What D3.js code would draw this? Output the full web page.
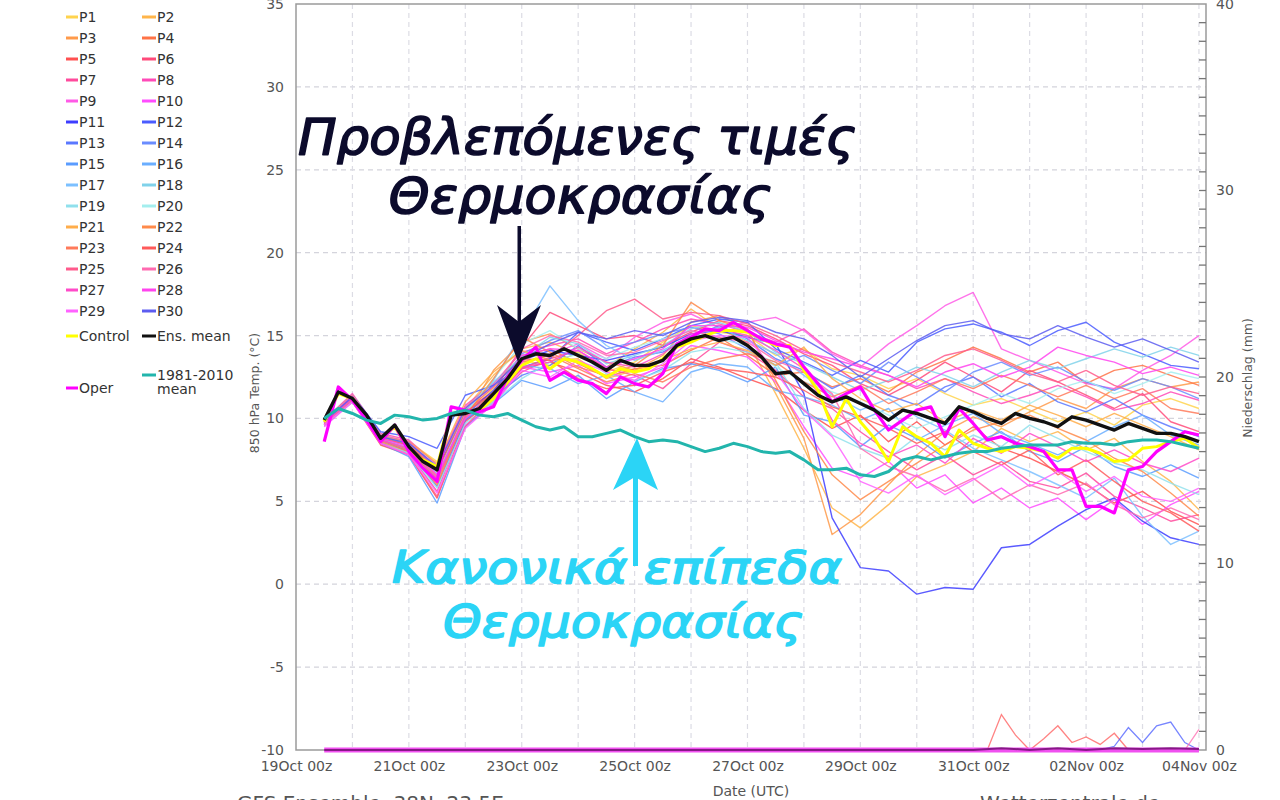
<!DOCTYPE html>
<html><head><meta charset="utf-8">
<script src="https://cdn.jsdelivr.net/npm/d3@7"></script>
<style>body{margin:0;background:#fff;} svg{display:block;font-family:"DejaVu Sans",sans-serif;}</style>
</head><body>
<svg id="c" width="1280" height="800"></svg>
<script>
// ---------- DATA ----------
// Start of the forecast: 19 Oct 12z. Members every 12 h, key curves every 6 h.
const yearUsed = 2020;
const xTickLabels = ["19Oct 00z","21Oct 00z","23Oct 00z","25Oct 00z","27Oct 00z","29Oct 00z","31Oct 00z","02Nov 00z","04Nov 00z"];
const yTickValues = [-10,-5,0,5,10,15,20,25,30,35];
const rTickValues = [0,10,20,30,40];

// Ensemble members, 850 hPa temperature (°C), 12-hourly from 19Oct 12z to 04Nov 00z
const P1  = [9.8,11.3,9.0,8.6,7.4,10.2,11.8,13.5,13.2,14.0,12.8,13.4,14.6,15.6,15.2,15.0,13.8,14.2,13.0,12.6,11.8,12.4,11.5,10.8,11.2,10.5,9.8,10.4,9.6,10.8,11.2,10.6];
const P2  = [9.7,11.2,8.9,8.4,6.8,10.6,12.6,14.2,14.6,13.9,13.1,14.2,15.2,16.6,15.4,14.6,11.5,8.2,4.6,3.4,4.8,6.5,7.2,8.0,9.4,8.6,9.2,8.1,8.8,7.4,6.2,4.5];
const P3  = [9.9,11.4,8.6,8.0,6.1,10.0,12.9,14.6,15.1,14.2,13.4,12.9,13.8,15.8,16.2,15.4,12.0,8.8,3.0,4.2,6.0,7.8,9.2,10.1,9.5,10.4,11.2,10.6,11.8,12.4,11.9,12.2];
const P4  = [9.8,11.1,8.7,8.2,6.5,10.4,11.9,13.8,14.2,13.3,12.5,13.0,13.2,14.1,14.9,13.8,12.6,12.8,11.9,12.4,11.6,12.8,13.5,14.3,13.6,12.8,13.4,12.1,12.9,13.2,12.6,12.0];
const P5  = [9.6,11.0,8.4,7.8,5.2,9.8,11.2,13.0,13.4,12.8,12.0,11.6,12.4,13.6,13.1,12.4,11.8,10.5,9.4,10.2,8.6,9.8,8.4,9.5,8.2,7.6,6.8,6.0,4.9,5.6,4.4,3.6];
const P6  = [9.8,11.3,8.9,8.5,6.9,10.5,11.6,14.3,16.4,15.6,14.8,15.0,14.4,15.2,15.9,15.6,14.8,13.9,13.2,12.1,11.4,12.3,13.4,12.5,11.6,12.9,12.2,11.4,10.6,11.5,9.8,9.2];
const P7  = [9.6,11.1,8.6,7.9,5.6,9.9,11.0,12.8,13.6,14.1,13.0,12.6,11.8,13.3,14.6,14.0,12.9,11.3,10.6,9.2,8.0,6.9,7.8,6.6,7.4,6.2,5.8,6.7,5.3,4.6,3.8,4.2];
const P8  = [9.9,11.5,9.1,8.7,7.2,10.8,12.1,14.0,14.4,14.8,13.9,14.6,15.4,16.0,15.7,15.2,14.6,15.4,14.0,13.2,12.6,11.8,12.4,11.6,10.9,11.4,12.0,11.3,10.5,10.9,11.6,11.1];
const P9  = [9.7,11.2,8.8,8.3,6.6,10.1,11.4,13.3,13.9,14.5,13.6,14.9,15.8,16.3,15.5,15.8,16.1,15.3,13.9,13.1,14.5,15.6,16.8,17.6,14.2,13.5,12.8,12.1,11.8,12.9,13.8,15.0];
const P10 = [9.5,11.0,8.5,8.1,6.3,9.6,10.8,13.1,12.8,13.2,12.1,12.5,13.1,14.4,14.1,13.7,12.2,9.5,7.0,6.4,7.4,5.8,6.6,4.9,5.8,4.6,5.2,3.9,5.1,3.6,4.8,5.6];
const P11 = [9.8,11.3,8.9,8.6,7.0,10.2,11.7,13.5,14.1,13.8,13.5,13.9,14.3,15.1,15.3,14.9,14.5,11.5,4.0,1.0,0.8,-0.6,-0.2,-0.3,2.2,2.4,3.5,4.5,5.2,3.8,2.8,2.4];
const P12 = [9.9,11.4,9.2,8.9,8.2,11.4,12.0,13.1,13.6,15.2,14.6,14.1,14.8,15.6,16.0,15.8,14.2,13.4,12.6,13.5,12.8,14.6,15.4,15.7,15.2,14.4,15.3,15.8,14.6,13.9,13.2,13.0];
const P13 = [9.7,11.2,8.7,8.0,5.9,9.9,11.3,12.6,13.2,14.4,13.1,13.7,14.0,14.9,15.6,14.8,13.6,12.9,11.8,12.6,11.4,10.8,11.9,12.5,11.3,12.1,11.0,10.4,11.2,10.2,9.5,8.9];
const P14 = [9.8,11.3,8.9,8.4,6.7,10.3,11.5,13.9,14.7,15.3,14.2,14.6,15.1,15.5,15.1,14.2,13.2,13.8,12.9,12.1,13.4,12.5,11.6,12.8,13.4,12.6,13.1,12.2,11.7,12.4,11.9,11.2];
const P15 = [9.6,11.1,8.5,7.7,4.9,9.5,10.9,12.3,11.8,12.6,11.2,12.2,13.0,13.3,12.9,12.2,13.1,10.2,9.8,8.3,9.6,8.8,7.6,8.5,9.2,8.0,7.4,8.3,7.1,6.5,7.2,6.4];
const P16 = [9.7,11.2,8.8,8.1,6.4,10.0,11.1,13.2,13.0,12.1,12.6,11.6,11.0,12.8,13.3,13.1,11.7,11.3,10.8,9.9,10.6,8.7,9.6,10.3,9.1,8.5,7.8,8.6,9.5,10.2,9.0,8.4];
const P17 = [9.9,11.4,9.0,8.5,7.1,10.4,12.3,15.1,18.0,15.9,14.4,13.5,14.1,15.0,15.5,14.7,13.9,12.6,11.4,10.5,11.2,10.1,9.3,8.2,7.5,6.8,6.0,5.2,6.4,4.1,2.4,3.2];
const P18 = [9.8,11.3,8.7,8.2,6.2,10.6,12.2,13.7,14.9,14.5,13.3,13.8,14.4,15.4,15.8,15.2,14.0,13.3,12.5,11.7,12.3,13.1,12.6,11.9,12.8,13.5,13.0,13.6,14.2,13.7,14.3,13.8];
const P19 = [9.6,11.0,8.6,7.9,5.8,9.7,11.0,12.4,13.4,13.9,12.7,12.3,12.9,14.0,14.3,14.0,13.4,10.6,9.0,8.2,7.6,8.9,8.1,9.0,8.3,9.6,8.8,8.0,7.3,6.9,6.1,5.4];
const P20 = [9.7,11.1,8.8,8.3,6.7,10.3,12.4,14.5,15.3,14.2,13.6,14.3,14.8,15.3,14.8,14.4,13.1,12.2,11.6,11.0,10.2,9.4,10.1,10.8,11.5,10.9,11.8,12.3,11.5,12.1,12.8,12.4];
const P21 = [9.9,11.4,8.9,8.6,7.3,11.0,12.8,14.1,13.5,13.6,12.4,12.9,13.5,14.2,14.6,14.1,13.2,14.3,12.4,11.2,10.4,10.9,9.8,10.5,9.9,10.8,10.2,9.5,10.3,9.6,8.9,8.1];
const P22 = [9.8,11.3,8.6,8.0,6.0,10.1,12.4,14.9,14.0,13.1,12.6,13.2,14.4,17.0,15.9,15.3,12.3,9.2,6.6,5.1,6.2,7.3,8.4,9.3,9.8,10.2,9.4,8.7,7.6,6.8,5.5,4.1];
const P23 = [9.7,11.2,8.7,8.1,6.3,10.0,11.6,13.4,13.8,13.0,12.2,12.7,12.2,13.1,13.6,13.9,13.4,12.2,11.3,12.0,10.9,11.6,12.4,11.8,12.6,12.0,11.3,12.0,11.2,11.8,10.6,10.3];
const P24 = [9.8,11.3,8.8,8.4,6.8,10.4,11.5,13.6,13.5,12.4,11.8,12.0,12.8,13.4,13.0,12.8,12.5,11.7,10.7,10.1,9.4,8.5,9.2,8.0,7.2,8.1,6.6,7.5,6.2,5.0,4.3,3.2];
const P25 = [9.6,11.1,8.5,7.8,5.3,9.5,11.3,13.0,13.7,15.0,16.5,17.2,16.0,16.4,16.2,15.7,15.0,14.1,13.4,12.8,12.2,12.9,13.8,14.2,13.5,12.7,12.2,12.9,12.0,11.4,11.9,11.5];
const P26 = [9.9,11.4,9.0,8.6,7.0,10.7,11.9,14.2,15.0,14.6,13.8,14.0,14.7,15.3,14.9,14.6,13.5,12.8,11.5,8.2,7.1,6.5,5.6,6.4,5.1,6.0,5.4,6.1,4.8,4.0,4.6,3.9];
const P27 = [9.7,11.2,8.7,8.2,6.4,10.2,11.3,13.1,13.4,14.3,13.4,13.1,13.9,15.1,15.4,15.0,14.1,13.0,9.9,8.5,7.7,8.4,7.3,8.8,7.9,9.1,8.3,7.4,8.1,7.3,6.8,7.6];
const P28 = [9.8,11.3,8.8,8.3,6.6,10.0,11.4,13.8,14.2,14.1,13.1,13.6,14.2,15.6,15.6,15.5,14.7,14.0,13.6,13.1,12.6,11.9,12.8,13.3,12.5,13.1,14.3,13.8,13.4,12.7,13.1,12.6];
const P29 = [9.6,11.0,8.5,7.8,5.5,9.4,10.9,12.9,12.5,13.5,12.8,12.3,13.3,14.7,15.0,14.9,12.8,10.5,8.9,6.2,5.5,6.6,5.4,6.3,7.2,5.9,6.8,5.6,6.5,5.3,5.0,5.8];
const P30 = [9.8,11.3,8.9,8.5,7.1,10.6,12.0,13.6,14.5,15.2,14.8,15.3,15.0,15.8,16.1,15.9,15.2,14.8,13.8,12.5,13.6,14.7,15.6,15.9,15.1,14.8,15.6,14.9,14.3,14.8,14.1,13.4];

const memberNames  = ["P1","P2","P3","P4","P5","P6","P7","P8","P9","P10","P11","P12","P13","P14","P15","P16","P17","P18","P19","P20","P21","P22","P23","P24","P25","P26","P27","P28","P29","P30"];
const memberColors = ["#ffd34d","#ffb54a","#ff9a4a","#ff7346","#ff5050","#ff4a7a","#ff4a9c","#ff4ab8","#ff5ae6","#ff4cff",
                      "#3d3dff","#4a5cff","#5a78ff","#6a8cff","#5a9cff","#6aaeff","#7cc0ff","#80d2ea","#90e0ec","#a4eeee",
                      "#ffad4a","#ff8a4a","#ff7a5a","#ff5a5a","#ff5a8c","#ff6ab0","#ff4ac8","#ff44ee","#ff62ff","#5c5cf0"];

// 6-hourly curves from 19Oct 12z to 04Nov 00z
const controlRun = [9.8,11.5,11.2,10.0,8.8,9.5,8.1,7.5,7.1,10.3,10.4,10.5,11.2,12.2,13.2,13.6,13.0,13.6,13.4,13.0,12.5,13.0,12.8,13.0,13.6,14.3,14.6,15.0,15.3,15.3,15.2,14.8,14.4,14.4,12.9,11.7,9.5,11.2,9.8,8.8,7.4,9.5,8.9,8.5,7.7,9.3,8.5,8.2,8.0,8.3,8.2,8.0,7.6,8.2,8.2,7.9,7.4,7.5,8.2,8.3,8.6,8.8,8.2];
const ensMean    = [9.9,11.6,11.2,10.2,8.8,9.6,8.3,7.4,6.9,10.2,10.3,10.6,11.5,12.4,13.6,13.9,13.8,14.2,13.8,13.4,12.9,13.5,13.2,13.2,13.5,14.4,14.8,15.0,14.7,14.9,14.4,13.7,12.7,12.8,12.1,11.4,11.0,11.3,10.9,10.5,9.9,10.5,10.3,10.0,9.7,10.7,10.4,10.0,9.7,10.3,10.0,9.8,9.5,10.1,9.9,9.6,9.3,9.7,9.4,9.1,9.1,8.9,8.6];
const climMean   = [10.0,10.6,10.3,9.9,9.7,10.2,10.1,9.9,10.0,10.3,10.5,10.2,10.1,10.3,9.9,9.5,9.3,9.5,8.9,8.9,9.1,9.3,8.9,8.6,8.7,8.6,8.3,8.0,8.2,8.5,8.3,8.0,7.9,8.0,7.5,6.9,6.9,7.0,6.6,6.5,6.8,7.5,7.7,7.5,7.7,7.9,8.0,8.0,8.2,8.3,8.4,8.4,8.4,8.6,8.5,8.5,8.4,8.6,8.7,8.7,8.6,8.4,8.2];
const operRun    = [8.6,11.9,11.1,9.9,8.6,9.6,8.0,7.0,6.2,10.7,10.5,10.4,10.7,12.5,13.5,14.3,12.3,12.8,12.3,12.1,11.5,12.5,12.1,11.9,12.7,14.5,14.9,15.4,15.3,15.8,15.3,14.8,14.5,14.3,13.1,12.1,11.0,11.5,11.9,10.5,9.3,9.9,10.5,10.7,8.9,10.6,9.7,8.7,8.9,8.5,8.3,8.0,6.9,6.9,4.7,4.7,4.3,6.9,7.1,8.0,8.6,9.2,9.0];

// Precipitation (mm), right axis
// member precipitation, 6-hourly from 30Oct 00z to 04Nov 00z
const precipP24 = [0,0,0,0,0,0,1.9,0.8,0,0.6,1.3,0.4,0.7,0.3,0.9,0,0,0,0,0,0];
const precipP12 = [0,0,0,0,0,0,0,0,0,0,0,0,0,0,0.2,1.2,0.4,1.3,1.5,0.4,0];
const precipP26 = [0,0,0,0,0,0,0,0,0,0,0,0,0,0,0,0,0,0,0,0,1.1];
// 12-hourly from 19Oct 12z to 04Nov 00z
const precipMean = [0,0,0,0,0,0,0,0,0,0,0,0,0,0,0,0,0,0,0,0,0,0,0,0,0.1,0,0.1,0,0.1,0.05,0.1,0.05];
const precipOper = [0,0,0,0,0,0,0,0,0,0,0,0,0,0,0,0,0,0,0,0,0,0,0,0,0,0,0,0,0,0,0,0];

// ---------- DRAW ----------
const HOUR = 3600e3;
const t0 = Date.UTC(yearUsed, 9, 19, 12);
const tPrecip = Date.UTC(yearUsed, 9, 30, 0);
const t12 = j => new Date(t0 + j * 12 * HOUR);
const t6  = i => new Date(t0 + i * 6 * HOUR);
const tp6 = i => new Date(tPrecip + i * 6 * HOUR);

const L = 296, R = 1206, T = 4, B = 750;
const x = d3.scaleUtc().domain([Date.UTC(yearUsed,9,19,0), Date.UTC(yearUsed,10,4,3)]).range([L, R]);
const y = d3.scaleLinear().domain([-10, 35]).range([B, T]);
const yr = d3.scaleLinear().domain([0, 40]).range([B, T]);

const svg = d3.select("#c");
svg.append("rect").attr("width",1280).attr("height",800).attr("fill","#fff");

svg.append("defs").append("clipPath").attr("id","plotclip")
  .append("rect").attr("x",L).attr("y",T).attr("width",R-L).attr("height",B-T);

// grid
const grid = svg.append("g");
grid.selectAll("line.h").data(yTickValues.filter(v => v > -10 && v < 35)).enter().append("line")
  .attr("x1",L).attr("x2",R).attr("y1",d=>y(d)).attr("y2",d=>y(d))
  .attr("stroke","#d4d4dc").attr("stroke-width",1.2).attr("stroke-dasharray","5,4");
const days = d3.utcDay.range(new Date(Date.UTC(yearUsed,9,20)), new Date(Date.UTC(yearUsed,10,4,1)));
grid.selectAll("line.v").data(days).enter().append("line")
  .attr("x1",d=>x(d)).attr("x2",d=>x(d)).attr("y1",T).attr("y2",B)
  .attr("stroke","#dcdce4").attr("stroke-width",1.2).attr("stroke-dasharray","5,4");

// frame
svg.append("rect").attr("x",L).attr("y",T).attr("width",R-L).attr("height",B-T)
  .attr("fill","none").attr("stroke","#9a9a9a").attr("stroke-width",1.5);

// right axis minor ticks (every 1 mm, inward)
svg.append("g").selectAll("line").data(d3.range(1,40)).enter().append("line")
  .attr("x1",R-7).attr("x2",R).attr("y1",d=>yr(d)).attr("y2",d=>yr(d))
  .attr("stroke","#777").attr("stroke-width",1.3);

// axes labels
const axL = svg.append("g").attr("transform",`translate(${L},0)`)
  .call(d3.axisLeft(y).tickValues(yTickValues).tickFormat(d => String(d)).tickSize(0).tickPadding(12));
axL.select(".domain").remove();
axL.selectAll("text").attr("font-size",14).attr("fill","#555").attr("font-family","DejaVu Sans");

const axR = svg.append("g").attr("transform",`translate(${R},0)`)
  .call(d3.axisRight(yr).tickValues(rTickValues).tickFormat(d => String(d)).tickSize(0).tickPadding(10));
axR.select(".domain").remove();
axR.selectAll("text").attr("font-size",14).attr("fill","#555").attr("font-family","DejaVu Sans");

const xTicks = d3.range(0, 17, 2).map(k => new Date(Date.UTC(yearUsed,9,19 + k)));
const axB = svg.append("g").attr("transform",`translate(0,${B})`)
  .call(d3.axisBottom(x).tickValues(xTicks).tickFormat((d,i) => xTickLabels[i]).tickSize(0).tickPadding(11));
axB.select(".domain").remove();
axB.selectAll("text").attr("font-size",14).attr("fill","#555").attr("font-family","DejaVu Sans");

svg.append("text").attr("x",(L+R)/2).attr("y",796).attr("text-anchor","middle")
  .attr("font-size",14).attr("fill","#555").text("Date (UTC)");
svg.append("text").attr("transform","translate(259,393) rotate(-90)").attr("text-anchor","middle")
  .attr("font-size",12.5).attr("fill","#555").text("850 hPa Temp. (°C)");
svg.append("text").attr("transform","translate(1252,378) rotate(-90)").attr("text-anchor","middle")
  .attr("font-size",12.5).attr("fill","#555").text("Niederschlag (mm)");

// data
const plot = svg.append("g").attr("clip-path","url(#plotclip)");
const line12 = d3.line().x((d,j)=>x(t12(j))).y(d=>y(d));
const line6  = d3.line().x((d,i)=>x(t6(i))).y(d=>y(d));
const lineP6 = d3.line().x((d,i)=>x(tp6(i))).y(d=>yr(d));
const lineP12 = d3.line().x((d,j)=>x(t12(j))).y(d=>yr(d));

const members = [P1,P2,P3,P4,P5,P6,P7,P8,P9,P10,P11,P12,P13,P14,P15,P16,P17,P18,P19,P20,P21,P22,P23,P24,P25,P26,P27,P28,P29,P30];
plot.selectAll("path.m").data(members).enter().append("path")
  .attr("d", d => line12(d)).attr("fill","none")
  .attr("stroke",(d,i)=>memberColors[i]).attr("stroke-width",1.4).attr("stroke-opacity",0.85)
  .attr("stroke-linejoin","round");

plot.append("path").attr("d",line6(controlRun)).attr("fill","none").attr("stroke","#ffff00").attr("stroke-width",3).attr("stroke-linejoin","round");
plot.append("path").attr("d",line6(operRun)).attr("fill","none").attr("stroke","#ff00ff").attr("stroke-width",3.2).attr("stroke-linejoin","round");
plot.append("path").attr("d",line6(ensMean)).attr("fill","none").attr("stroke","#111").attr("stroke-width",3.4).attr("stroke-linejoin","round");
plot.append("path").attr("d",line6(climMean)).attr("fill","none").attr("stroke","#22b5ac").attr("stroke-width",3).attr("stroke-linejoin","round");

// precipitation (drawn unclipped so the zero line keeps its full width)
const prec = svg.append("g");
[[precipP24,memberColors[23]],[precipP12,memberColors[11]],[precipP26,memberColors[25]]].forEach(([d,c])=>{
  prec.append("path").attr("d",lineP6(d)).attr("fill","none").attr("stroke",c).attr("stroke-width",1.3).attr("stroke-opacity",0.75);
});
prec.append("path").attr("d",lineP12(precipOper)).attr("fill","none").attr("stroke","#f050f0").attr("stroke-width",5);
prec.append("path").attr("d",lineP12(precipMean)).attr("fill","none").attr("stroke","#5a005a").attr("stroke-opacity",0.7).attr("stroke-width",2);

// legend
const leg = svg.append("g").attr("font-size",14).attr("fill","#333");
memberNames.forEach((n,i)=>{
  const col = i % 2, row = Math.floor(i/2);
  const lx = col ? 142 : 66, ly = 17 + row*21;
  leg.append("line").attr("x1",lx).attr("x2",lx + (col?14:12)).attr("y1",ly).attr("y2",ly)
    .attr("stroke",memberColors[i]).attr("stroke-width",3);
  leg.append("text").attr("x",lx + (col?15:13)).attr("y",ly).attr("dy","0.36em").text(n);
});
const extra = [
  {x:66, y:336, c:"#ffff00", t:["Control"]},
  {x:142, y:336, c:"#111", t:["Ens. mean"]},
  {x:142, y:375, c:"#22b5ac", t:["1981-2010","mean"]},
  {x:66, y:388, c:"#ff00ff", t:["Oper"]}
];
extra.forEach(e=>{
  const w = e.x === 66 ? 12 : 14;
  leg.append("line").attr("x1",e.x).attr("x2",e.x+w).attr("y1",e.y).attr("y2",e.y).attr("stroke",e.c).attr("stroke-width",3);
  e.t.forEach((s,k)=>leg.append("text").attr("x",e.x+w+1).attr("y",e.y + k*14).attr("dy","0.36em").text(s));
});

// annotations
const navy = "#0c0b2c", cyan = "#2bd4f6";
const ann = svg.append("g").attr("font-family","DejaVu Sans").attr("font-style","oblique");
function annText(tx, ty, size, col, len, s){
  ann.append("text").attr("x",tx).attr("y",ty).attr("text-anchor","middle").attr("font-size",size)
    .attr("fill",col).attr("stroke",col).attr("stroke-width",1.6).attr("stroke-linejoin","round")
    .attr("textLength",len).attr("lengthAdjust","spacingAndGlyphs").text(s);
}
annText(577, 154, 50, navy, 558, "Προβλεπόμενες τιμές");
annText(580, 213, 50, navy, 383, "Θερμοκρασίας");
ann.append("rect").attr("x",517.5).attr("y",226).attr("width",3.5).attr("height",98).attr("fill",navy);
ann.append("path").attr("d","M518,362 L497,305 L519,322 L541,305 Z").attr("fill",navy);

annText(617, 583, 44, cyan, 450, "Κανονικά επίπεδα");
annText(623, 637, 44, cyan, 360, "Θερμοκρασίας");
ann.append("rect").attr("x",633).attr("y",476).attr("width",5).attr("height",90).attr("fill",cyan);
ann.append("path").attr("d","M637,438 L613,490 L635,477 L658,490 Z").attr("fill",cyan);

// footer (cut off at the bottom edge, as in the source image)
svg.append("text").attr("x",237).attr("y",810).attr("font-size",20).attr("fill","#555")
  .attr("xml:space","preserve").text("GFS Ensemble  38N  23.5E");
svg.append("text").attr("x",980).attr("y",810).attr("font-size",20).attr("fill","#555").text("Wetterzentrale.de");
</script>
</body></html>
